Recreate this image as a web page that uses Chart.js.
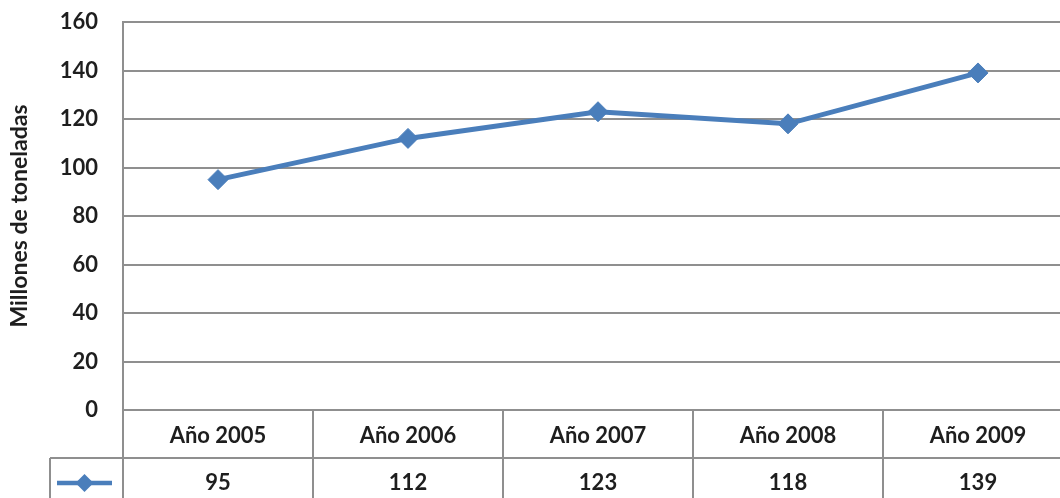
<!DOCTYPE html>
<html>
<head>
<meta charset="utf-8">
<script src="https://cdn.jsdelivr.net/npm/chart.js@4/dist/chart.umd.min.js"></script>
<style>
  html, body { margin: 0; padding: 0; background: #fff; overflow: hidden; }
  #chart { display: block; }
</style>
</head>
<body>
<canvas id="chart" width="1090" height="498"></canvas>
<script>
var years  = ['Año 2005', 'Año 2006', 'Año 2007', 'Año 2008', 'Año 2009'];
var values = [95, 112, 123, 118, 139];
var yTicks = [0, 20, 40, 60, 80, 100, 120, 140, 160];

var blue     = '#4a7ebb',
    gridGray = '#8f8f8f',
    textDark = '#1e1e1e',
    fontFam  = 'Lato, "Open Sans", sans-serif';

// ------------------------------------------------------- //
// Data table under the plot (values row + legend key)
// ------------------------------------------------------ //
var dataTable = {
    id: 'dataTable',
    afterDraw: function (chart) {
        var ctx = chart.ctx,
            x = chart.scales.x,
            area = chart.chartArea,
            top = x.top,
            split = top + 48,
            bottom = chart.height;

        ctx.save();
        ctx.strokeStyle = gridGray;
        ctx.lineWidth = 2;

        // vertical cell borders
        var bounds = [area.left];
        for (var i = 0; i < years.length - 1; i++) {
            bounds.push((x.getPixelForValue(i) + x.getPixelForValue(i + 1)) / 2);
        }
        bounds.push(area.right);
        bounds.forEach(function (b) {
            ctx.beginPath();
            ctx.moveTo(b, top);
            ctx.lineTo(b, bottom);
            ctx.stroke();
        });

        // row split + legend cell
        var keyLeft = 50;
        ctx.beginPath();
        ctx.moveTo(keyLeft, split);
        ctx.lineTo(area.right, split);
        ctx.moveTo(keyLeft, split);
        ctx.lineTo(keyLeft, bottom);
        ctx.stroke();

        // legend key: line with diamond
        var ky = (split + bottom) / 2 + 5;
        ctx.strokeStyle = blue;
        ctx.lineWidth = 4.5;
        ctx.beginPath();
        ctx.moveTo(keyLeft + 7, ky);
        ctx.lineTo(area.left - 11, ky);
        ctx.stroke();
        ctx.fillStyle = blue;
        var kx = (keyLeft + 7 + area.left - 11) / 2;
        ctx.beginPath();
        ctx.moveTo(kx - 9, ky);
        ctx.lineTo(kx, ky - 9);
        ctx.lineTo(kx + 9, ky);
        ctx.lineTo(kx, ky + 9);
        ctx.closePath();
        ctx.fill();

        // values
        ctx.fillStyle = textDark;
        ctx.font = 'bold 22px ' + fontFam;
        ctx.textAlign = 'center';
        ctx.textBaseline = 'middle';
        values.forEach(function (v, i) {
            ctx.fillText(String(v), x.getPixelForValue(i), ky);
        });
        ctx.restore();
    }
};

var chart = new Chart(document.getElementById('chart'), {
    type: 'line',
    data: {
        labels: years,
        datasets: [{
            label: 'Millones de toneladas',
            data: values,
            borderColor: blue,
            backgroundColor: blue,
            borderWidth: 5,
            tension: 0,
            pointStyle: 'rectRot',
            pointRadius: 10,
            pointBorderWidth: 1,
            pointBackgroundColor: blue,
            pointBorderColor: blue
        }]
    },
    options: {
        responsive: false,
        animation: false,
        layout: { padding: { top: 22, right: 17, left: 0, bottom: 0 } },
        plugins: {
            legend: { display: false },
            tooltip: { enabled: false }
        },
        scales: {
            x: {
                type: 'category',
                offset: true,
                grid: { display: false, drawOnChartArea: false, drawTicks: false },
                border: { display: true, color: gridGray, width: 2 },
                ticks: {
                    color: textDark,
                    padding: 13,
                    font: { family: fontFam, size: 22, weight: 'bold' },
                    maxRotation: 0
                },
                afterFit: function (scale) { scale.height = 88; }
            },
            y: {
                min: 0,
                max: 160,
                afterBuildTicks: function (scale) {
                    scale.ticks = yTicks.map(function (v) { return { value: v }; });
                },
                grid: { color: gridGray, lineWidth: 2, drawTicks: false },
                border: { display: true, color: gridGray, width: 2 },
                ticks: {
                    color: textDark,
                    padding: 25,
                    font: { family: fontFam, size: 22, weight: 'bold' }
                },
                title: {
                    display: true,
                    text: 'Millones de toneladas',
                    color: textDark,
                    font: { family: fontFam, size: 23, weight: 'bold' },
                    padding: { top: 6, bottom: 0 }
                },
                afterFit: function (scale) {
                    scale.width = 123;
                    scale.paddingTop = 0;
                    scale.paddingBottom = 0;
                }
            }
        }
    },
    plugins: [dataTable]
});
</script>
</body>
</html>
